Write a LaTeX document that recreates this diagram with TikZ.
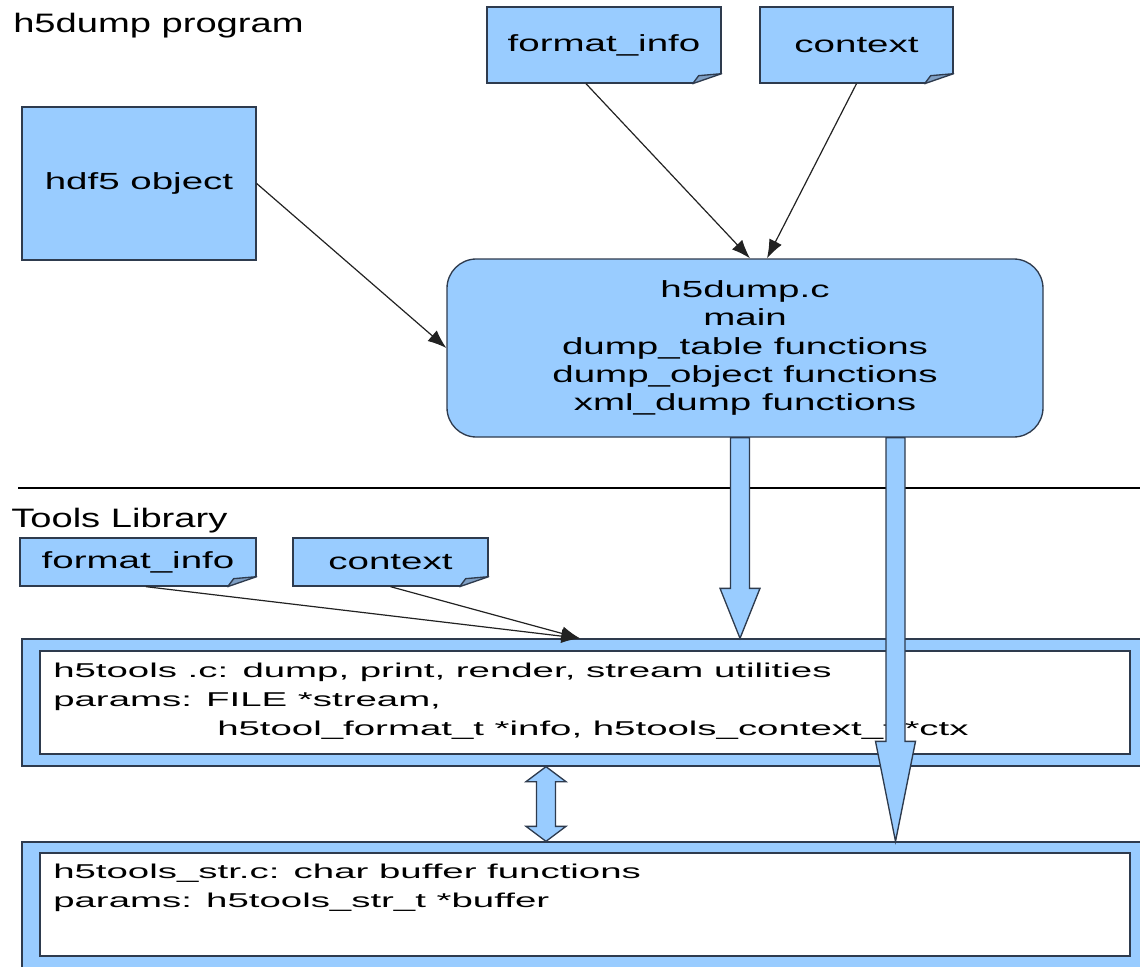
\documentclass[tikz,border=0pt]{standalone}
\usepackage{fontspec}
\setmainfont{Liberation Sans}
\newfontfamily\titlefont{Liberation Sans}[FakeStretch=1.43]
\newfontfamily\notefont{Liberation Sans}[FakeStretch=1.65]
\newfontfamily\libfont{Liberation Sans}[FakeStretch=1.92]
\usetikzlibrary{arrows.meta,positioning,calc}

\definecolor{boxblue}{HTML}{99CCFF}
\definecolor{foldblue}{HTML}{7F9FC4}
\definecolor{edge}{HTML}{2E3B4E}
\definecolor{linkgray}{HTML}{222222}

\newcommand{\pxu}{0.75pt}

% folded corner of a note
\newcommand{\foldcorner}[1]{%
  \fill[white] ($(#1.south east)+(-29,0)$) -- ($(#1.south east)+(-29,2)$) -- ($(#1.south east)+(2,2)$)
    -- ($(#1.south east)+(2,-10)$) -- ($(#1.south east)+(0,-10)$) -- cycle;
  \draw[edge,line width=1pt,fill=foldblue,line join=round] ($(#1.south east)+(-29,0)$) -- ($(#1.south east)+(-23,-8)$)
    -- ($(#1.south east)+(0,-10)$) -- cycle;}

% block arrow: top, tip, head length
\newcommand{\blockarrow}[3]{%
  \draw[edge,line width=1pt,fill=boxblue] let \p1=(#1), \p2=(#2) in
    (\x1-9.5*\pxu,\y1) -- (\x1+9.5*\pxu,\y1) -- (\x1+9.5*\pxu,\y2+#3*\pxu) -- (\x1+20*\pxu,\y2+#3*\pxu)
    -- (\x2,\y2) -- (\x1-20*\pxu,\y2+#3*\pxu) -- (\x1-9.5*\pxu,\y2+#3*\pxu) -- cycle;}

% double block arrow: top, bottom, head length
\newcommand{\dblarrow}[3]{%
  \draw[edge,line width=1pt,fill=boxblue] let \p1=(#1), \p2=(#2) in
    (\x1,\y1) -- (\x1+20*\pxu,\y1-#3*\pxu) -- (\x1+9.5*\pxu,\y1-#3*\pxu) -- (\x1+9.5*\pxu,\y2+#3*\pxu)
    -- (\x1+20*\pxu,\y2+#3*\pxu) -- (\x2,\y2) -- (\x1-20*\pxu,\y2+#3*\pxu) -- (\x1-9.5*\pxu,\y2+#3*\pxu)
    -- (\x1-9.5*\pxu,\y1-#3*\pxu) -- (\x1-20*\pxu,\y1-#3*\pxu) -- cycle;}

\begin{document}
\begin{tikzpicture}[x=0.75pt,y=-0.75pt,
boxstyle/.style={draw=edge,fill=boxblue,line width=1pt,inner sep=0pt},
note/.style={boxstyle,font=\notefont\fontsize{17.5pt}{21.2pt}\selectfont},
caption/.style={anchor=base west,inner sep=0pt,font=\titlefont\fontsize{20pt}{24pt}\selectfont},
whitebox/.style={draw=edge,fill=white,line width=1pt,inner sep=0pt},
listing/.style={anchor=north west,inner sep=0pt,align=left,font=\libfont\fontsize{15pt}{21.75pt}\selectfont},
link/.style={draw=linkgray,line width=0.9pt,-{Latex[length=14pt,width=10.5pt]}}]

\useasboundingbox (0,0) rectangle (1140,967);

% h5dump program
\node[caption] (progtitle) at (13,32) {h5dump program};
\node[note,minimum width=234*\pxu,minimum height=76*\pxu] (fmtTop) at (604,45) {format\_info};
\node[note,minimum width=193*\pxu,minimum height=76*\pxu] (ctxTop) at (856.5,45) {context};
\node[note,minimum width=234*\pxu,minimum height=153*\pxu] (hdf5) at (139,183.5) {hdf5 object};
\node[note,align=center,rounded corners=22pt,minimum width=596*\pxu,minimum height=178*\pxu] (main) at (745,348)
  {h5dump.c\\main\\dump\_table functions\\dump\_object functions\\xml\_dump functions};

\draw[line width=1pt] (18,488) -- (1140,488);

% tools library
\node[caption] (libtitle) at (11,527) {Tools Library};
\node[note,minimum width=236*\pxu,minimum height=48*\pxu] (fmtLib) at (138,562) {format\_info};
\node[note,minimum width=195*\pxu,minimum height=48*\pxu] (ctxLib) at (390.5,562) {context};

\node[boxstyle,minimum width=1128*\pxu,minimum height=127*\pxu] (tools) at (586,702.5) {};
\node[whitebox,minimum width=1090*\pxu,minimum height=103*\pxu] (toolsIn) at (585,702.5) {};
\node[listing] (toolsTxt) at (53,662.5) {h5tools .c: dump, print, render, stream utilities\\
  params: FILE *stream,\\
  \hspace*{123pt}h5tool\_format\_t *info, h5tools\_context\_t *ctx};

\node[boxstyle,minimum width=1128*\pxu,minimum height=126*\pxu] (str) at (586,905) {};
\node[whitebox,minimum width=1090*\pxu,minimum height=103*\pxu] (strIn) at (585,904.5) {};
\node[listing] (strTxt) at (53,863.5) {h5tools\_str.c: char buffer functions\\
  params: h5tools\_str\_t *buffer};

\foreach \n in {fmtTop,ctxTop,fmtLib,ctxLib}
  {\foldcorner{\n}}

% block arrows
\coordinate (colA) at (740,0);
\coordinate (colB) at (895.5,0);
\coordinate (colC) at (546,0);
\blockarrow{colA |- main.south}{colA |- tools.north}{50}
\dblarrow{colC |- tools.south}{colC |- str.north}{15}
\blockarrow{colB |- main.south}{colB |- str.north}{100}

% links
\draw[link] ($(fmtTop.south)+(-18,0)$) -- ($(main.north)+(5,0)$);
\draw[link] (ctxTop.south) -- ($(main.north)+(22,0)$);
\draw[link] (hdf5.east) -- (main.west);
\draw[link] ($(fmtLib.south)+(8,0)$) -- ($(tools.north)+(-6,0)$);
\draw[link] (ctxLib.south) -- ($(tools.north)+(-6,0)$);
\end{tikzpicture}
\end{document}
